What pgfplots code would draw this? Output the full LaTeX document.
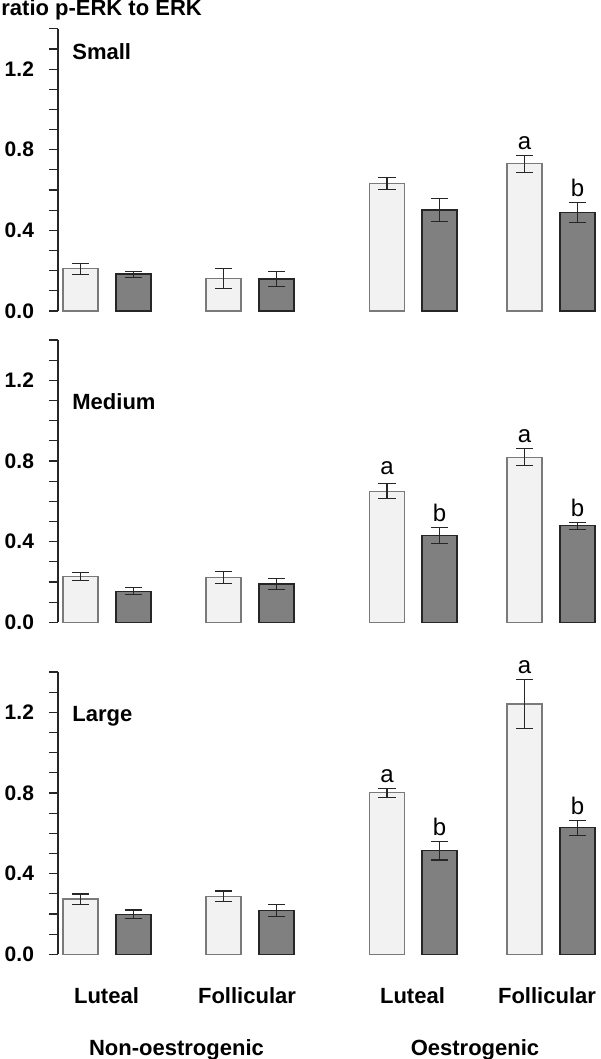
\documentclass[border=0pt]{standalone}
\usepackage{fontspec}
\setmainfont{Liberation Sans}
\usepackage{pgfplots}
\pgfplotsset{compat=1.18}
\usepackage{pgfplotstable}

\definecolor{lightfill}{HTML}{F2F2F2}
\definecolor{lightdraw}{HTML}{7A7A7A}
\definecolor{darkfill}{HTML}{808080}
\definecolor{darkdraw}{HTML}{262626}

% x = bar centre position, y = mean, e = error
\pgfplotstableread{
x y e
80.5 0.210 0.027
223.5 0.162 0.049
387 0.633 0.031
524.5 0.730 0.042
}\smallL
\pgfplotstableread{
x y e
133.5 0.183 0.015
276.5 0.159 0.039
439.5 0.501 0.056
577.5 0.489 0.048
}\smallD
\pgfplotstableread{
x y e
80.5 0.226 0.019
223.5 0.223 0.031
387 0.650 0.038
524.5 0.818 0.042
}\mediumL
\pgfplotstableread{
x y e
133.5 0.154 0.018
276.5 0.190 0.026
439.5 0.431 0.038
577.5 0.479 0.017
}\mediumD
\pgfplotstableread{
x y e
80.5 0.274 0.025
223.5 0.288 0.026
387 0.802 0.022
524.5 1.242 0.121
}\largeL
\pgfplotstableread{
x y e
133.5 0.198 0.022
276.5 0.218 0.031
439.5 0.513 0.045
577.5 0.628 0.038
}\largeD

\pgfplotsset{
  panel/.style={
    scale only axis, width=271pt, height=141.1pt,
    xmin=58, xmax=600, ymin=0, ymax=1.4,
    axis lines*=left,
    x axis line style={draw=none},
    xtick=\empty,
    y axis line style={line width=0.6pt, draw=black!85},
    ytick={0,0.4,0.8,1.2},
    yticklabels={0.0,0.4,0.8,1.2},
    minor ytick={0.1,0.2,0.3,0.5,0.6,0.7,0.9,1.0,1.1,1.3,1.4},
    tick align=outside,
    major tick length=4.5pt, minor tick length=4.5pt,
    tick style={line width=0.6pt, black!85},
    yticklabel style={font=\bfseries\fontsize{10.5}{12}\selectfont, xshift=-4pt},
    /pgf/number format/assume math mode=true,
    clip=false,
  },
  lightbar/.style={ybar, bar width=35, bar shift=0pt, fill=lightfill, draw=lightdraw, line width=0.6pt,
    error bars/.cd, y dir=both, y explicit,
    error bar style={line width=0.55pt, black!85},
    error mark options={rotate=90, mark size=4.3pt, line width=0.55pt, black!85}},
  darkbar/.style={ybar, bar width=35, bar shift=0pt, fill=darkfill, draw=darkdraw, line width=0.6pt,
    error bars/.cd, y dir=both, y explicit,
    error bar style={line width=0.55pt, black!85},
    error mark options={rotate=90, mark size=4.3pt, line width=0.55pt, black!85}},
}
\newcommand{\ttl}[1]{{\bfseries\fontsize{11}{13}\selectfont #1}}
\newcommand{\sig}{\fontsize{12}{14}\selectfont}

\begin{document}
\begin{tikzpicture}
% Small
\begin{axis}[panel, at={(29pt,374pt)}, anchor=south west]
\addplot[lightbar] table[x=x, y=y, y error=e] {\smallL};
\addplot[darkbar] table[x=x, y=y, y error=e] {\smallD};
\node[anchor=base west, inner sep=0] at (axis cs:72,1.249) {\ttl{Small}};
\node[anchor=base, inner sep=0, font=\sig] at (axis cs:524.5,0.802) {a};
\node[anchor=base, inner sep=0, font=\sig] at (axis cs:577.5,0.567) {b};
\end{axis}
% Medium
\begin{axis}[panel, at={(29pt,218.35pt)}, anchor=south west]
\addplot[lightbar] table[x=x, y=y, y error=e] {\mediumL};
\addplot[darkbar] table[x=x, y=y, y error=e] {\mediumD};
\node[anchor=base west, inner sep=0] at (axis cs:72,1.056) {\ttl{Medium}};
\node[anchor=base, inner sep=0, font=\sig] at (axis cs:387,0.735) {a};
\node[anchor=base, inner sep=0, font=\sig] at (axis cs:439.5,0.499) {b};
\node[anchor=base, inner sep=0, font=\sig] at (axis cs:524.5,0.890) {a};
\node[anchor=base, inner sep=0, font=\sig] at (axis cs:577.5,0.526) {b};
\end{axis}
% Large
\begin{axis}[panel, at={(29pt,52.35pt)}, anchor=south west]
\addplot[lightbar] table[x=x, y=y, y error=e] {\largeL};
\addplot[darkbar] table[x=x, y=y, y error=e] {\largeD};
\node[anchor=base west, inner sep=0] at (axis cs:72,1.156) {\ttl{Large}};
\node[anchor=base, inner sep=0, font=\sig] at (axis cs:387,0.854) {a};
\node[anchor=base, inner sep=0, font=\sig] at (axis cs:439.5,0.588) {b};
\node[anchor=base, inner sep=0, font=\sig] at (axis cs:524.5,1.393) {a};
\node[anchor=base, inner sep=0, font=\sig] at (axis cs:577.5,0.696) {b};
\node[anchor=base, inner sep=0] at (axis cs:106.5,-0.243) {\ttl{Luteal}};
\node[anchor=base, inner sep=0] at (axis cs:247,-0.243) {\ttl{Follicular}};
\node[anchor=base, inner sep=0] at (axis cs:412.5,-0.243) {\ttl{Luteal}};
\node[anchor=base, inner sep=0] at (axis cs:547,-0.243) {\ttl{Follicular}};
\node[anchor=base, inner sep=0] at (axis cs:176.5,-0.500) {\ttl{Non-oestrogenic}};
\node[anchor=base, inner sep=0] at (axis cs:475,-0.500) {\ttl{Oestrogenic}};
\end{axis}
\node[anchor=base west, inner sep=0] at (0.5pt,521.6pt) {\ttl{ratio p-ERK to ERK}};
\pgfresetboundingbox
\path[use as bounding box] (0,0) rectangle (300pt,529.5pt);
\end{tikzpicture}
\end{document}
